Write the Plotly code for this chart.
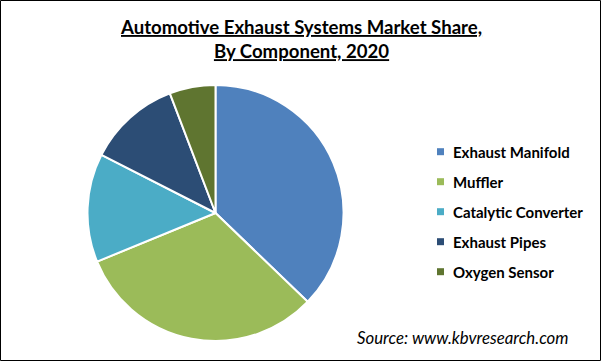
import plotly.graph_objects as go

labels = ["Exhaust Manifold", "Muffler", "Catalytic Converter", "Exhaust Pipes", "Oxygen Sensor"]
shares = [37.2, 31.6, 13.7, 11.7, 5.8]
colors = ["#4F81BD", "#9BBB59", "#4BACC6", "#2C4D75", "#5F7530"]

W, H = 601, 361
FONT = "Lato"

fig = go.Figure()
fig.add_trace(go.Pie(
    labels=labels, values=shares, sort=False, direction="clockwise", rotation=0,
    marker=dict(colors=colors, line=dict(color="white", width=2)),
    textinfo="none", hoverinfo="label+percent", showlegend=False,
    domain=dict(x=[87.5 / W, 343.5 / W], y=[(H - 341) / H, (H - 85) / H]),
))

annotations = [
    dict(text="<b><u>Automotive Exhaust Systems Market Share,</u></b><br><b><u>By Component, 2020</u></b>",
         x=300.5 / W, y=1 - 39 / H, xref="paper", yref="paper", xanchor="center", yanchor="middle",
         showarrow=False, font=dict(family=FONT, size=18.6, color="black"), align="center"),
    dict(text="<i>Source: www.kbvresearch.com</i>", x=355 / W, y=1 - 337 / H, xref="paper", yref="paper",
         xanchor="left", yanchor="middle", showarrow=False, font=dict(family=FONT, size=16.8, color="black")),
]
shapes = [dict(type="rect", xref="paper", yref="paper", x0=0.5 / W, x1=1 - 0.5 / W, y0=0.5 / H, y1=1 - 0.5 / H,
               line=dict(color="black", width=1))]

for i, (lab, col) in enumerate(zip(labels, colors)):
    yc = 151.7 + 30 * i
    shapes.append(dict(type="rect", xref="paper", yref="paper",
                       x0=437 / W, x1=444 / W, y0=1 - (yc + 3.5) / H, y1=1 - (yc - 3.5) / H,
                       fillcolor=col, line=dict(width=0)))
    annotations.append(dict(text="<b>" + lab + "</b>", x=451 / W, y=1 - yc / H, xref="paper", yref="paper",
                            xanchor="left", yanchor="middle", showarrow=False,
                            font=dict(family=FONT, size=15, color="black")))

fig.update_layout(width=W, height=H, margin=dict(l=0, r=0, t=0, b=0),
                  paper_bgcolor="white", plot_bgcolor="white",
                  annotations=annotations, shapes=shapes)
fig.write_html("out.html", config={"displayModeBar": False},
               post_script="document.body.style.margin='0';document.body.style.overflow='hidden';")
